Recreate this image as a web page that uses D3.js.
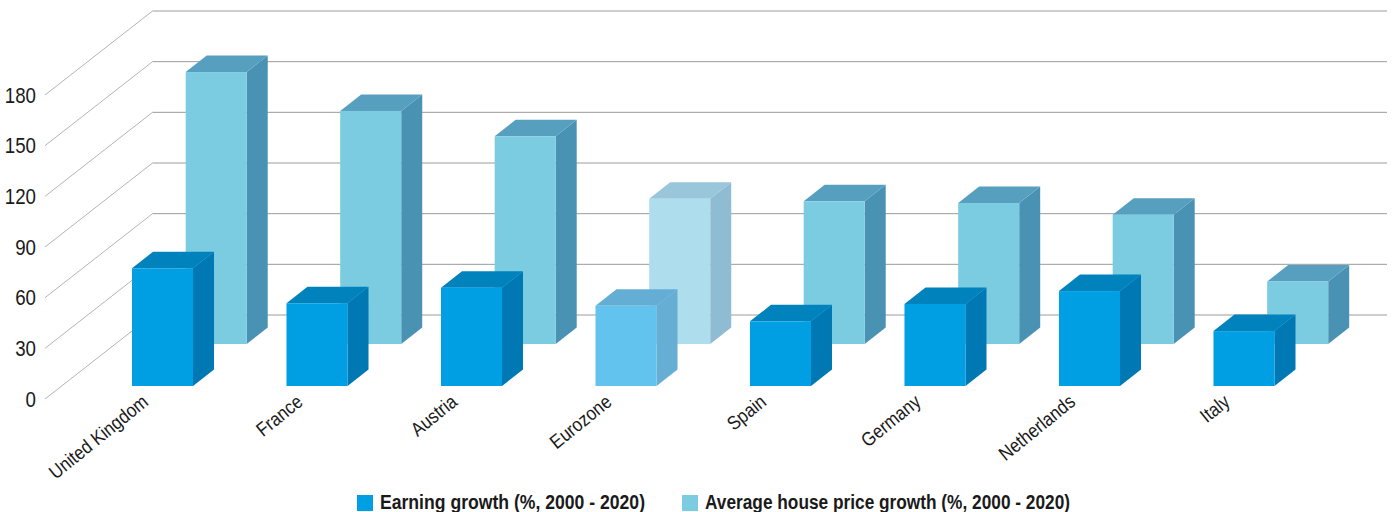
<!DOCTYPE html>
<html><head><meta charset="utf-8">
<script src="https://cdn.jsdelivr.net/npm/d3@7"></script>
<style>html,body{margin:0;padding:0;background:#fff}svg{display:block}</style>
</head><body><svg id="c" width="1396" height="512"></svg>
<script>
const categories = ["United Kingdom","France","Austria","Eurozone","Spain","Germany","Netherlands","Italy"];
const earningGrowth = [69.7, 49, 58.2, 47.5, 38.3, 48.6, 56.2, 32.5];
const houseGrowth = [161, 138, 123, 86, 84.5, 83.5, 76.5, 37];
const yTicks = [0,30,60,90,120,150,180];
const seriesNames = ["Earning growth (%, 2000 - 2020)","Average house price growth (%, 2000 - 2020)"];
const highlighted = "Eurozone";

const svg = d3.select("#c");
const x = d3.scaleBand().domain(categories).range([132,1274.5]).paddingInner(0.605).paddingOuter(0).align(0);
const y = d3.scaleLinear().domain([0,180]).range([399,95]);
const wall = {dx:107.5, dy:-84, right:1387};

// grid
const g = svg.append("g");
g.selectAll(".w").data(yTicks).join("line")
 .attr("x1",45).attr("x2",45+wall.dx)
 .attr("y1",d=>y(d)).attr("y2",d=>y(d)+wall.dy)
 .attr("stroke","#b5b5b5").attr("stroke-width",1);
g.selectAll(".b").data(yTicks).join("line")
 .attr("x1",45+wall.dx).attr("x2",wall.right)
 .attr("y1",d=>y(d)+wall.dy).attr("y2",d=>y(d)+wall.dy)
 .attr("stroke","#9c9c9c").attr("stroke-width",1);

// y axis labels
const ax = svg.append("g").attr("transform","translate(36,0)")
 .call(d3.axisLeft(y).tickValues(yTicks).tickSize(0).tickPadding(0));
ax.select(".domain").remove();
ax.selectAll("text")
 .attr("font-family","'Liberation Sans'").attr("font-size",21.5).attr("fill","#1a1a1a")
 .attr("text-anchor","end").attr("dy","0.33em").attr("x",0).attr("transform","scale(0.87,1)");

const pal = {
 back:{f:"#7bcbe1",s:"#4a92b4",t:"#579fbe"},
 backH:{f:"#aedeee",s:"#8fbcd2",t:"#99c6da"},
 front:{f:"#009fe3",s:"#0078b4",t:"#0082bd"},
 frontH:{f:"#62c3ee",s:"#66aed3",t:"#64aed5"}
};
const depth = {dx:21, dy:-16.5};
function bars(values, off, baseY, key){
  const w = x.bandwidth();
  const scaleH = v => y(0)-y(v);
  const sel = svg.append("g").selectAll("g").data(categories.map((c,i)=>({c,v:values[i]}))).join("g");
  const col = d => pal[d.c===highlighted ? key+"H" : key];
  const pts = a => a.map(p=>p.join(",")).join(" ");
  sel.append("polygon").attr("fill",d=>col(d).s).attr("points",d=>{
    const l=x(d.c)+off+w, t=baseY-scaleH(d.v);
    return pts([[l,t],[l+depth.dx,t+depth.dy],[l+depth.dx,baseY+depth.dy],[l,baseY]]);
  });
  sel.append("polygon").attr("fill",d=>col(d).t).attr("points",d=>{
    const l=x(d.c)+off, t=baseY-scaleH(d.v);
    return pts([[l,t],[l+depth.dx,t+depth.dy],[l+w+depth.dx,t+depth.dy],[l+w,t]]);
  });
  sel.append("rect").attr("fill",d=>col(d).f)
    .attr("x",d=>x(d.c)+off).attr("width",w)
    .attr("y",d=>baseY-scaleH(d.v)).attr("height",d=>scaleH(d.v));
}
bars(houseGrowth, 53.7, 344, "back");
bars(earningGrowth, 0, 386, "front");

// category labels
svg.append("g").selectAll("text").data(categories).join("text")
 .attr("transform",d=>`translate(${x(d)+x.bandwidth()/2-13},${404}) rotate(-39) scale(0.87,1)`)
 .attr("text-anchor","end").attr("font-family","'Liberation Sans'").attr("font-size",19.5)
 .attr("fill","#1a1a1a").text(d=>d);

// legend
const lx = [[357,380,265],[682,705,365]];
const lg = svg.append("g").selectAll("g").data(seriesNames).join("g");
lg.append("rect").attr("x",(d,i)=>lx[i][0]).attr("y",495).attr("width",16).attr("height",16)
  .attr("fill",(d,i)=>i?pal.back.f:pal.front.f);
lg.append("text").attr("x",(d,i)=>lx[i][1]).attr("y",508.5)
  .attr("font-family","'Liberation Sans'").attr("font-weight",700).attr("font-size",20)
  .attr("textLength",(d,i)=>lx[i][2]).attr("lengthAdjust","spacingAndGlyphs")
  .attr("fill","#1a1a1a").text(d=>d);
</script></body></html>
